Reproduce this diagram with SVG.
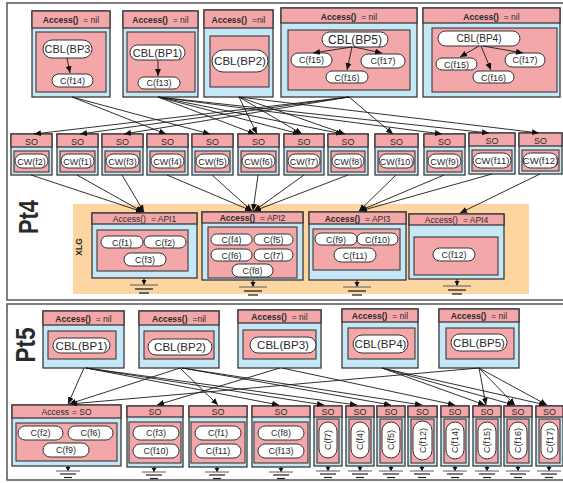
<svg xmlns="http://www.w3.org/2000/svg" width="563" height="483" viewBox="0 0 563 483">
<style>
.hd{fill:#f4a7a9;stroke:#3a3a3a;stroke-width:1.3}
.bd{fill:#c6e7f5;stroke:#3a3a3a;stroke-width:1.3}
.in{fill:#f4a7a9;stroke:#3a3a3a;stroke-width:1.1}
.pl{fill:#fff;stroke:#333;stroke-width:1}
.t{font-family:"Liberation Sans",Arial,sans-serif;fill:#2a2a2a;text-anchor:middle}
.b{font-weight:bold}
.c{stroke:#1a1a1a;stroke-width:0.9;fill:none}
.fr{fill:none;stroke:#555;stroke-width:1.5}
</style>
<defs>
<marker id="ar" markerWidth="7" markerHeight="6" refX="7" refY="3" orient="auto" markerUnits="userSpaceOnUse"><path d="M0,0 L7,3 L0,6 z" fill="#111"/></marker>
<g id="gr1"><line x1="0" y1="0" x2="0" y2="7" stroke="#222" stroke-width="1.2"/><path d="M-2.5,2 L2.5,2 L0,7 z" fill="#111"/><line x1="-14" y1="7" x2="14" y2="7" stroke="#777" stroke-width="1.3"/><line x1="-9" y1="11" x2="9" y2="11" stroke="#222" stroke-width="1.3"/><line x1="-5" y1="15" x2="5" y2="15" stroke="#222" stroke-width="1.3"/></g>
<g id="gr2"><line x1="0" y1="0" x2="0" y2="5" stroke="#222" stroke-width="1.2"/><path d="M-2.5,1 L2.5,1 L0,5 z" fill="#111"/><line x1="-12" y1="5" x2="12" y2="5" stroke="#777" stroke-width="1.2"/><line x1="-8" y1="8" x2="8" y2="8" stroke="#222" stroke-width="1.2"/><line x1="-4" y1="11.5" x2="4" y2="11.5" stroke="#222" stroke-width="1.2"/></g>
</defs>
<rect width="563" height="483" fill="#fff"/>
<rect class="fr" x="7" y="3" width="560" height="297"/>
<rect class="fr" x="7" y="304" width="560" height="176"/>
<rect x="73" y="204" width="456" height="90" fill="#fdd5a0"/>
<text class="t b" font-size="28" textLength="34" lengthAdjust="spacingAndGlyphs" transform="translate(38,217) rotate(-90)">Pt4</text>
<text class="t b" font-size="28" textLength="35" lengthAdjust="spacingAndGlyphs" transform="translate(35,345) rotate(-90)">Pt5</text>
<text class="t b" font-size="8.5" transform="translate(82,247) rotate(-90)">XLG</text>

<g id="n-bp3">
<rect class="bd" x="32" y="11" width="78" height="86"/><rect class="hd" x="32" y="11" width="78" height="17"/>
<text class="t" x="71" y="23" font-size="8.5"><tspan class="b">Access()</tspan><tspan dx="5">= nil</tspan></text>
<rect class="in" x="36" y="32" width="70" height="60"/>
<rect class="pl" x="43" y="40" width="49" height="18" rx="9"/><text class="t" x="67.5" y="53" font-size="11">CBL(BP3</text>
<rect class="pl" x="52" y="74" width="41" height="13" rx="6.5"/><text class="t" x="72.5" y="84" font-size="9">C(f14)</text>
</g>
<g id="n-bp1">
<rect class="bd" x="123" y="11" width="75" height="86"/><rect class="hd" x="123" y="11" width="75" height="17"/>
<text class="t" x="160.5" y="23" font-size="8.5"><tspan class="b">Access()</tspan><tspan dx="5">= nil</tspan></text>
<rect class="in" x="127" y="32" width="68" height="60"/>
<rect class="pl" x="130" y="45" width="55" height="15" rx="7.5"/><text class="t" x="157.5" y="56.5" font-size="11">CBL(BP1)</text>
<rect class="pl" x="138" y="77" width="42" height="12" rx="6"/><text class="t" x="159" y="86" font-size="9">C(f13)</text>
</g>
<g id="n-bp2">
<rect class="bd" x="204" y="10" width="69" height="87"/><rect class="hd" x="204" y="10" width="69" height="18"/>
<text class="t" x="238.5" y="23" font-size="8.5"><tspan class="b">Access()</tspan><tspan dx="5">=nil</tspan></text>
<rect class="in" x="210" y="36" width="59" height="51"/>
<rect class="pl" x="212" y="50" width="56" height="22" rx="11"/><text class="t" x="240" y="65" font-size="11.5">CBL(BP2)</text>
</g>
<g id="n-bp5">
<rect class="bd" x="281" y="8" width="136" height="89"/><rect class="hd" x="281" y="8" width="136" height="15"/>
<text class="t" x="349" y="19.5" font-size="8.5"><tspan class="b">Access()</tspan><tspan dx="5">= nil</tspan></text>
<rect class="in" x="288" y="30" width="122" height="60"/>
<rect class="pl" x="322" y="32" width="66" height="15" rx="7.5"/><text class="t" x="355" y="43.5" font-size="12">CBL(BP5)</text>
<rect class="pl" x="291" y="53" width="41" height="14" rx="7"/><text class="t" x="311.5" y="63" font-size="9">C(f15)</text>
<rect class="pl" x="361" y="54" width="44" height="14" rx="7"/><text class="t" x="383" y="64" font-size="9">C(f17)</text>
<rect class="pl" x="326" y="71" width="42" height="12" rx="6"/><text class="t" x="347" y="80.5" font-size="9">C(f16)</text>
</g>
<g id="n-bp4">
<rect class="bd" x="423" y="8" width="137" height="89"/><rect class="hd" x="423" y="8" width="137" height="15"/>
<text class="t" x="491.5" y="19.5" font-size="8.5"><tspan class="b">Access()</tspan><tspan dx="5">= nil</tspan></text>
<rect class="in" x="432" y="28" width="125" height="64"/>
<rect class="pl" x="438" y="31" width="82" height="15" rx="7.5"/><text class="t" x="479" y="42" font-size="10">CBL(BP4)</text>
<rect class="pl" x="436" y="58" width="41" height="12" rx="6"/><text class="t" x="456.5" y="67.5" font-size="9">C(f15)</text>
<rect class="pl" x="505" y="53" width="40" height="14" rx="7"/><text class="t" x="525" y="63" font-size="9">C(f17)</text>
<rect class="pl" x="473" y="71" width="41" height="12" rx="6"/><text class="t" x="493.5" y="80.5" font-size="9">C(f16)</text>
</g>

<g id="so-f2"><rect class="bd" x="11" y="134" width="41" height="41"/><rect class="hd" x="11" y="134" width="41" height="13"/><text class="t" x="31.5" y="144.5" font-size="9">SO</text><rect class="in" x="14" y="151" width="35" height="21"/><rect class="pl" x="15" y="154" width="33" height="14" rx="7"/><text class="t" x="31.5" y="164.5" font-size="9">CW(f2)</text></g>
<g id="so-f1"><rect class="bd" x="57" y="134" width="41" height="41"/><rect class="hd" x="57" y="134" width="41" height="13"/><text class="t" x="77.5" y="144.5" font-size="9">SO</text><rect class="in" x="60" y="151" width="35" height="21"/><rect class="pl" x="61" y="154" width="33" height="14" rx="7"/><text class="t" x="77.5" y="164.5" font-size="9">CW(f1)</text></g>
<g id="so-f3"><rect class="bd" x="102" y="134" width="41" height="41"/><rect class="hd" x="102" y="134" width="41" height="13"/><text class="t" x="122.5" y="144.5" font-size="9">SO</text><rect class="in" x="105" y="151" width="35" height="21"/><rect class="pl" x="106" y="154" width="33" height="14" rx="7"/><text class="t" x="122.5" y="164.5" font-size="9">CW(f3)</text></g>
<g id="so-f4"><rect class="bd" x="147" y="134" width="41" height="41"/><rect class="hd" x="147" y="134" width="41" height="13"/><text class="t" x="167.5" y="144.5" font-size="9">SO</text><rect class="in" x="150" y="151" width="35" height="21"/><rect class="pl" x="151" y="154" width="33" height="14" rx="7"/><text class="t" x="167.5" y="164.5" font-size="9">CW(f4)</text></g>
<g id="so-f5"><rect class="bd" x="192" y="134" width="41" height="41"/><rect class="hd" x="192" y="134" width="41" height="13"/><text class="t" x="212.5" y="144.5" font-size="9">SO</text><rect class="in" x="195" y="151" width="35" height="21"/><rect class="pl" x="196" y="154" width="33" height="14" rx="7"/><text class="t" x="212.5" y="164.5" font-size="9">CW(f5)</text></g>
<g id="so-f6"><rect class="bd" x="238" y="134" width="41" height="41"/><rect class="hd" x="238" y="134" width="41" height="13"/><text class="t" x="258.5" y="144.5" font-size="9">SO</text><rect class="in" x="241" y="151" width="35" height="21"/><rect class="pl" x="242" y="154" width="33" height="14" rx="7"/><text class="t" x="258.5" y="164.5" font-size="9">CW(f6)</text></g>
<g id="so-f7"><rect class="bd" x="284" y="134" width="40" height="41"/><rect class="hd" x="284" y="134" width="40" height="13"/><text class="t" x="304" y="144.5" font-size="9">SO</text><rect class="in" x="287" y="151" width="34" height="21"/><rect class="pl" x="288" y="154" width="32" height="14" rx="7"/><text class="t" x="304" y="164.5" font-size="9">CW(f7)</text></g>
<g id="so-f8"><rect class="bd" x="328" y="134" width="40" height="41"/><rect class="hd" x="328" y="134" width="40" height="13"/><text class="t" x="348" y="144.5" font-size="9">SO</text><rect class="in" x="331" y="151" width="34" height="21"/><rect class="pl" x="332" y="154" width="32" height="14" rx="7"/><text class="t" x="348" y="164.5" font-size="9">CW(f8)</text></g>
<g id="so-f10"><rect class="bd" x="375" y="134" width="43" height="41"/><rect class="hd" x="375" y="134" width="43" height="13"/><text class="t" x="396.5" y="144.5" font-size="9">SO</text><rect class="in" x="378" y="151" width="37" height="21"/><rect class="pl" x="379" y="154" width="35" height="14" rx="7"/><text class="t" x="396.5" y="164.5" font-size="9">CW(f10)</text></g>
<g id="so-f9"><rect class="bd" x="424" y="134" width="41" height="41"/><rect class="hd" x="424" y="134" width="41" height="13"/><text class="t" x="444.5" y="144.5" font-size="9">SO</text><rect class="in" x="427" y="151" width="35" height="21"/><rect class="pl" x="428" y="154" width="33" height="14" rx="7"/><text class="t" x="444.5" y="164.5" font-size="9">CW(f9)</text></g>
<g id="so-f11"><rect class="bd" x="469" y="133" width="46" height="41"/><rect class="hd" x="469" y="133" width="46" height="13"/><text class="t" x="492" y="143.5" font-size="9">SO</text><rect class="in" x="472" y="150" width="40" height="21"/><rect class="pl" x="473" y="153" width="38" height="15" rx="7.5"/><text class="t" x="492" y="164" font-size="9.5">CW(f11)</text></g>
<g id="so-f12"><rect class="bd" x="519" y="133" width="43" height="41"/><rect class="hd" x="519" y="133" width="43" height="13"/><text class="t" x="540.5" y="143.5" font-size="9">SO</text><rect class="in" x="522" y="150" width="37" height="21"/><rect class="pl" x="523" y="153" width="35" height="15" rx="7.5"/><text class="t" x="540.5" y="164" font-size="9.5">CW(f12)</text></g>

<g id="api1">
<rect class="bd" x="92" y="213" width="105" height="65"/><rect class="hd" x="92" y="213" width="105" height="11"/>
<text class="t" x="144.5" y="222" font-size="8.5">Access()<tspan dx="5">= API1</tspan></text>
<rect class="in" x="97" y="230" width="91" height="41"/>
<rect class="pl" x="101" y="236" width="42" height="12" rx="6"/><text class="t" x="122" y="245.5" font-size="9">C(f1)</text>
<rect class="pl" x="144" y="236" width="42" height="12" rx="6"/><text class="t" x="165" y="245.5" font-size="9">C(f2)</text>
<rect class="pl" x="124" y="253" width="42" height="13" rx="6.5"/><text class="t" x="145" y="262.5" font-size="9">C(f3)</text>
<use href="#gr1" x="144" y="278"/>
</g>
<g id="api2">
<rect class="bd" x="202" y="212" width="101" height="68"/><rect class="hd" x="202" y="212" width="101" height="11"/>
<text class="t" x="252.5" y="221" font-size="8.5"><tspan class="b">Access()</tspan><tspan dx="5">= API2</tspan></text>
<rect class="in" x="208" y="227" width="89" height="51"/>
<rect class="pl" x="211" y="234" width="41" height="11" rx="5.5"/><text class="t" x="231.5" y="243" font-size="9">C(f4)</text>
<rect class="pl" x="254" y="234" width="39" height="11" rx="5.5"/><text class="t" x="273.5" y="243" font-size="9">C(f5)</text>
<rect class="pl" x="211" y="249" width="41" height="12" rx="6"/><text class="t" x="231.5" y="258.5" font-size="9">C(f6)</text>
<rect class="pl" x="254" y="249" width="39" height="12" rx="6"/><text class="t" x="273.5" y="258.5" font-size="9">C(f7)</text>
<rect class="pl" x="232" y="264" width="41" height="13" rx="6.5"/><text class="t" x="252.5" y="273.5" font-size="9">C(f8)</text>
<use href="#gr1" x="253" y="280"/>
</g>
<g id="api3">
<rect class="bd" x="309" y="212" width="97" height="68"/><rect class="hd" x="309" y="212" width="97" height="12"/>
<text class="t" x="357.5" y="221.5" font-size="8.5"><tspan class="b">Access()</tspan><tspan dx="5">= API3</tspan></text>
<rect class="in" x="313" y="229" width="87" height="41"/>
<rect class="pl" x="315" y="233" width="42" height="12" rx="6"/><text class="t" x="336" y="242.5" font-size="9">C(f9)</text>
<rect class="pl" x="357" y="233" width="41" height="12" rx="6"/><text class="t" x="377.5" y="242.5" font-size="9">C(f10)</text>
<rect class="pl" x="334" y="248" width="42" height="14" rx="7"/><text class="t" x="355" y="258.5" font-size="9">C(f11)</text>
<use href="#gr1" x="357" y="280"/>
</g>
<g id="api4">
<rect class="bd" x="409" y="214" width="95" height="65"/><rect class="hd" x="409" y="214" width="95" height="11"/>
<text class="t" x="456.5" y="223" font-size="8.5">Access()<tspan dx="5">= API4</tspan></text>
<rect class="in" x="414" y="237" width="84" height="38"/>
<rect class="pl" x="433" y="248" width="42" height="13" rx="6.5"/><text class="t" x="454" y="257.5" font-size="9">C(f12)</text>
<use href="#gr1" x="457" y="279"/>
</g>

<g id="p5-bp1">
<rect class="bd" x="43" y="311" width="81" height="57"/><rect class="hd" x="43" y="311" width="81" height="14"/>
<text class="t" x="83.5" y="321.5" font-size="8.5"><tspan class="b">Access()</tspan><tspan dx="5">= nil</tspan></text>
<rect class="in" x="48" y="331" width="68" height="28"/>
<rect class="pl" x="53" y="338" width="57" height="15" rx="7.5"/><text class="t" x="81.5" y="349.5" font-size="11.5">CBL(BP1)</text>
</g>
<g id="p5-bp2">
<rect class="bd" x="139" y="311" width="80" height="57"/><rect class="hd" x="139" y="311" width="80" height="14"/>
<text class="t" x="179" y="321.5" font-size="8.5"><tspan class="b">Access()</tspan><tspan dx="5">=nil</tspan></text>
<rect class="in" x="144" y="331" width="70" height="28"/>
<rect class="pl" x="148" y="339" width="64" height="16" rx="8"/><text class="t" x="180" y="351" font-size="11.5">CBL(BP2)</text>
</g>
<g id="p5-bp3">
<rect class="bd" x="238" y="310" width="83" height="58"/><rect class="hd" x="238" y="310" width="83" height="13"/>
<text class="t" x="279.5" y="320" font-size="8.5"><tspan class="b">Access()</tspan><tspan dx="5">= nil</tspan></text>
<rect class="in" x="243" y="330" width="73" height="29"/>
<rect class="pl" x="250" y="337" width="66" height="16" rx="8"/><text class="t" x="283" y="349" font-size="11.5">CBL(BP3)</text>
</g>
<g id="p5-bp4">
<rect class="bd" x="342" y="309" width="76" height="59"/><rect class="hd" x="342" y="309" width="76" height="13"/>
<text class="t" x="380" y="319" font-size="8.5"><tspan class="b">Access()</tspan><tspan dx="5">= nil</tspan></text>
<rect class="in" x="348" y="328" width="67" height="31"/>
<rect class="pl" x="353" y="335" width="55" height="18" rx="9"/><text class="t" x="380.5" y="348" font-size="11.5">CBL(BP4)</text>
</g>
<g id="p5-bp5">
<rect class="bd" x="439" y="309" width="80" height="59"/><rect class="hd" x="439" y="309" width="80" height="13"/>
<text class="t" x="479" y="319" font-size="8.5"><tspan class="b">Access()</tspan><tspan dx="5">= nil</tspan></text>
<rect class="in" x="446" y="328" width="68" height="31"/>
<rect class="pl" x="451" y="334" width="56" height="17" rx="8.5"/><text class="t" x="479" y="346.5" font-size="11.5">CBL(BP5)</text>
</g>

<g id="b-acc">
<rect class="bd" x="12" y="405" width="109" height="61"/><rect class="hd" x="12" y="405" width="109" height="13"/>
<text class="t" x="66.5" y="415" font-size="8.5">Access<tspan dx="3">= SO</tspan></text>
<rect class="in" x="16" y="423" width="101" height="38"/>
<rect class="pl" x="18" y="426" width="45" height="14" rx="7"/><text class="t" x="40.5" y="436" font-size="9">C(f2)</text>
<rect class="pl" x="68" y="426" width="45" height="14" rx="7"/><text class="t" x="90.5" y="436" font-size="9">C(f6)</text>
<rect class="pl" x="43" y="443" width="46" height="14" rx="7"/><text class="t" x="66" y="453" font-size="9">C(f9)</text>
<use href="#gr2" x="68" y="466"/>
</g>
<g id="b-f3">
<rect class="bd" x="127" y="406" width="56" height="61"/><rect class="hd" x="127" y="406" width="56" height="11"/>
<text class="t" x="155" y="415" font-size="9">SO</text>
<rect class="in" x="129" y="422" width="52" height="41"/>
<rect class="pl" x="133" y="426" width="46" height="14" rx="7"/><text class="t" x="156" y="436" font-size="9">C(f3)</text>
<rect class="pl" x="133" y="444" width="46" height="14" rx="7"/><text class="t" x="156" y="454" font-size="9">C(f10)</text>
<use href="#gr2" x="154" y="467"/>
</g>
<g id="b-f1">
<rect class="bd" x="189" y="406" width="58" height="61"/><rect class="hd" x="189" y="406" width="58" height="11"/>
<text class="t" x="218" y="415" font-size="9">SO</text>
<rect class="in" x="191" y="422" width="54" height="41"/>
<rect class="pl" x="195" y="426" width="46" height="14" rx="7"/><text class="t" x="218" y="436" font-size="9">C(f1)</text>
<rect class="pl" x="195" y="444" width="46" height="14" rx="7"/><text class="t" x="218" y="454" font-size="9">C(f11)</text>
<use href="#gr2" x="217" y="467"/>
</g>
<g id="b-f8">
<rect class="bd" x="252" y="406" width="58" height="61"/><rect class="hd" x="252" y="406" width="58" height="11"/>
<text class="t" x="281" y="415" font-size="9">SO</text>
<rect class="in" x="254" y="422" width="54" height="41"/>
<rect class="pl" x="258" y="426" width="46" height="14" rx="7"/><text class="t" x="281" y="436" font-size="9">C(f8)</text>
<rect class="pl" x="258" y="444" width="46" height="14" rx="7"/><text class="t" x="281" y="454" font-size="9">C(f13)</text>
<use href="#gr2" x="281" y="467"/>
</g>
<g id="b-f7"><rect class="bd" x="314" y="406" width="28" height="60"/><rect class="hd" x="314" y="406" width="28" height="11"/><text class="t" x="328" y="415" font-size="9">SO</text><rect class="in" x="317" y="419" width="22" height="44"/><rect class="pl" x="319" y="422" width="18" height="36" rx="9"/><text class="t" font-size="9" transform="translate(331.2,440) rotate(-90)">C(f7)</text><use href="#gr2" x="328" y="466"/></g>
<g id="b-f4"><rect class="bd" x="346" y="406" width="28" height="60"/><rect class="hd" x="346" y="406" width="28" height="11"/><text class="t" x="360" y="415" font-size="9">SO</text><rect class="in" x="349" y="419" width="22" height="44"/><rect class="pl" x="351" y="422" width="18" height="36" rx="9"/><text class="t" font-size="9" transform="translate(363.2,440) rotate(-90)">C(f4)</text><use href="#gr2" x="360" y="466"/></g>
<g id="b-f5"><rect class="bd" x="377" y="406" width="28" height="60"/><rect class="hd" x="377" y="406" width="28" height="11"/><text class="t" x="391" y="415" font-size="9">SO</text><rect class="in" x="380" y="419" width="22" height="44"/><rect class="pl" x="382" y="422" width="18" height="36" rx="9"/><text class="t" font-size="9" transform="translate(394.2,440) rotate(-90)">C(f5)</text><use href="#gr2" x="391" y="466"/></g>
<g id="b-f12"><rect class="bd" x="408" y="406" width="29" height="60"/><rect class="hd" x="408" y="406" width="29" height="11"/><text class="t" x="422.5" y="415" font-size="9">SO</text><rect class="in" x="411" y="419" width="23" height="44"/><rect class="pl" x="413" y="421" width="19" height="39" rx="9.5"/><text class="t" font-size="9" transform="translate(425.7,440.5) rotate(-90)">C(f12)</text><use href="#gr2" x="422" y="466"/></g>
<g id="b-f14"><rect class="bd" x="441" y="406" width="28" height="60"/><rect class="hd" x="441" y="406" width="28" height="11"/><text class="t" x="455" y="415" font-size="9">SO</text><rect class="in" x="444" y="419" width="22" height="44"/><rect class="pl" x="446" y="422" width="18" height="37" rx="9"/><text class="t" font-size="9" transform="translate(458.2,440.5) rotate(-90)">C(f14)</text><use href="#gr2" x="455" y="466"/></g>
<g id="b-f15"><rect class="bd" x="473" y="406" width="28" height="60"/><rect class="hd" x="473" y="406" width="28" height="11"/><text class="t" x="487" y="415" font-size="9">SO</text><rect class="in" x="476" y="419" width="22" height="44"/><rect class="pl" x="478" y="422" width="18" height="37" rx="9"/><text class="t" font-size="9" transform="translate(490.2,440.5) rotate(-90)">C(f15)</text><use href="#gr2" x="487" y="466"/></g>
<g id="b-f16"><rect class="bd" x="504" y="406" width="28" height="60"/><rect class="hd" x="504" y="406" width="28" height="11"/><text class="t" x="518" y="415" font-size="9">SO</text><rect class="in" x="507" y="419" width="22" height="44"/><rect class="pl" x="509" y="422" width="18" height="37" rx="9"/><text class="t" font-size="9" transform="translate(521.2,440.5) rotate(-90)">C(f16)</text><use href="#gr2" x="518" y="466"/></g>
<g id="b-f17"><rect class="bd" x="536" y="406" width="27" height="60"/><rect class="hd" x="536" y="406" width="27" height="11"/><text class="t" x="549.5" y="415" font-size="9">SO</text><rect class="in" x="539" y="419" width="21" height="44"/><rect class="pl" x="541" y="422" width="17" height="37" rx="8.5"/><text class="t" font-size="9" transform="translate(552.7,440.5) rotate(-90)">C(f17)</text><use href="#gr2" x="549" y="466"/></g>

<g id="connectors" class="c" marker-end="url(#ar)">
<line x1="67" y1="58" x2="70" y2="73"/>
<line x1="158" y1="60" x2="158" y2="76"/>
<line x1="352" y1="47" x2="313" y2="53"/>
<line x1="352" y1="47" x2="347" y2="70"/>
<line x1="354" y1="47" x2="382" y2="53"/>
<line x1="479" y1="46" x2="460" y2="57"/>
<line x1="481" y1="46" x2="491" y2="70"/>
<line x1="483" y1="46" x2="523" y2="53"/>

<line x1="72" y1="97" x2="166" y2="134"/>
<line x1="72" y1="97" x2="210" y2="134"/>
<line x1="158" y1="97" x2="255" y2="134"/>
<line x1="158" y1="97" x2="300" y2="134"/>
<line x1="158" y1="97" x2="343" y2="134"/>
<line x1="158" y1="97" x2="442" y2="134"/>
<line x1="158" y1="97" x2="489" y2="133"/>
<line x1="239" y1="97" x2="257" y2="134"/>
<line x1="239" y1="97" x2="302" y2="134"/>
<line x1="239" y1="97" x2="345" y2="134"/>
<line x1="239" y1="97" x2="539" y2="133"/>
<line x1="349" y1="97" x2="34" y2="134"/>
<line x1="349" y1="97" x2="80" y2="134"/>
<line x1="349" y1="97" x2="124" y2="134"/>
<line x1="349" y1="97" x2="393" y2="134"/>

<line x1="31" y1="175" x2="143" y2="212"/>
<line x1="77" y1="175" x2="143" y2="212"/>
<line x1="122" y1="175" x2="144" y2="212"/>
<line x1="167" y1="175" x2="252" y2="211"/>
<line x1="212" y1="175" x2="252" y2="211"/>
<line x1="258" y1="175" x2="253" y2="211"/>
<line x1="304" y1="175" x2="254" y2="211"/>
<line x1="348" y1="175" x2="254" y2="211"/>
<line x1="396" y1="175" x2="359" y2="211"/>
<line x1="444" y1="175" x2="359" y2="211"/>
<line x1="492" y1="174" x2="360" y2="211"/>
<line x1="540" y1="174" x2="460" y2="213"/>

<line x1="84" y1="368" x2="68" y2="404"/>
<line x1="86" y1="368" x2="279" y2="405"/>
<line x1="86" y1="368" x2="324" y2="405"/>
<line x1="86" y1="368" x2="357" y2="405"/>
<line x1="180" y1="368" x2="69" y2="404"/>
<line x1="180" y1="368" x2="218" y2="405"/>
<line x1="182" y1="368" x2="391" y2="405"/>
<line x1="182" y1="368" x2="422" y2="405"/>
<line x1="280" y1="368" x2="157" y2="405"/>
<line x1="282" y1="368" x2="455" y2="405"/>
<line x1="382" y1="368" x2="485" y2="405"/>
<line x1="382" y1="368" x2="514" y2="405"/>
<line x1="382" y1="368" x2="546" y2="405"/>
<line x1="479" y1="368" x2="70" y2="404"/>
<line x1="479" y1="368" x2="486" y2="405"/>
<line x1="479" y1="368" x2="515" y2="405"/>
<line x1="479" y1="368" x2="547" y2="405"/>
</g>
</svg>
